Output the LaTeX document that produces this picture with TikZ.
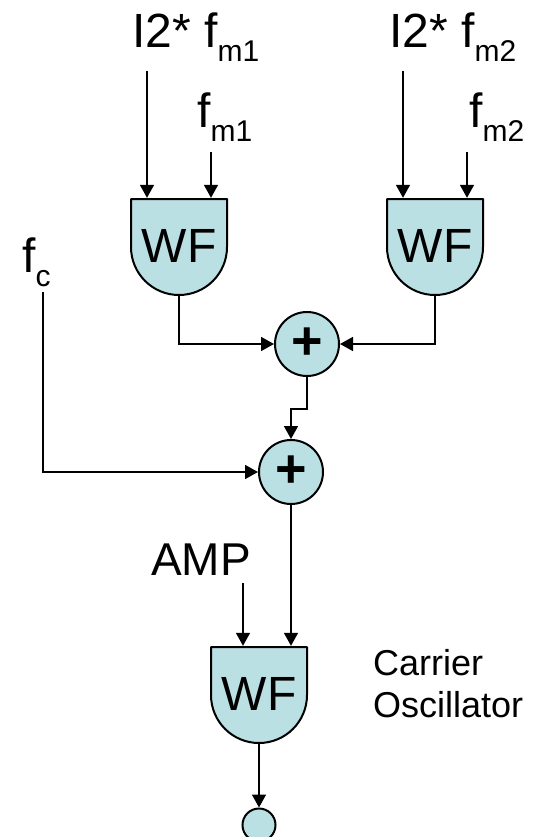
\documentclass[tikz,border=0pt]{standalone}
\usepackage{fontspec}
\setmainfont{Liberation Sans}
\usepackage{tikz}
\usetikzlibrary{arrows.meta,positioning}
\definecolor{gatefill}{RGB}{187,224,227}
\newcommand{\bigfont}{\fontsize{48}{54}\selectfont}
\newcommand{\lowsub}[1]{\raisebox{-14pt}{\fontsize{30}{34}\selectfont #1}}
\tikzset{
  gateshape/.style={draw=black,fill=gatefill,line width=2pt,line join=round},
  gatebox/.style={minimum width=96pt,minimum height=96pt,inner sep=0pt,font=\bigfont},
  sumnode/.style={circle,draw=black,fill=gatefill,line width=2pt,
    minimum size=64pt,inner sep=0pt,font=\fontsize{54}{58}\selectfont\bfseries},
  outnode/.style={circle,draw=black,fill=gatefill,line width=2pt,
    minimum size=33pt,inner sep=0pt},
  signal/.style={-{Triangle[length=13pt,width=14pt]},line width=1.6pt},
  inputlabel/.style={inner sep=0pt,anchor=base west,font=\bigfont},
  notelabel/.style={inner sep=0pt,anchor=base west,align=left,
    font=\fontsize{36}{42}\selectfont}
}

\begin{document}
\begin{tikzpicture}[x=1pt,y=1pt]
  \useasboundingbox (0,0) rectangle (536,-837);
  % waveform gates
  \draw[gateshape] (131,-199) -- (227,-199) -- (227,-247)
    arc[start angle=0,end angle=-180,radius=48] -- cycle;
  \node[gatebox] (wf1) at (179,-246) {WF};
  \draw[gateshape] (387,-199) -- (483,-199) -- (483,-247)
    arc[start angle=0,end angle=-180,radius=48] -- cycle;
  \node[gatebox] (wf2) at (435,-246) {WF};
  \draw[gateshape] (211,-647) -- (307,-647) -- (307,-695)
    arc[start angle=0,end angle=-180,radius=48] -- cycle;
  \node[gatebox] (wf3) at (259,-694) {WF};
  % adders and output
  \node[sumnode] (sum1) at (307,-344) {\raisebox{-4pt}{+}};
  \node[sumnode] (sum2) at (291,-472) {\raisebox{-4pt}{+}};
  \node[outnode] (out) at (259,-825) {};
  % labels
  \node[inputlabel] (lblA) at (132,-48) {I2* f\lowsub{m1}};
  \node[inputlabel] (lblB) at (197,-128) {f\lowsub{m1}};
  \node[inputlabel] (lblC) at (389,-48) {I2* f\lowsub{m2}};
  \node[inputlabel] (lblD) at (469,-128) {f\lowsub{m2}};
  \node[inputlabel] (lblfc) at (22,-272) {f\lowsub{c}};
  \node[inputlabel,font=\fontsize{46}{52}\selectfont] (lblamp) at (151,-575) {AMP};
  \node[notelabel] (carrier) at (373,-717) {Carrier\\Oscillator};
  % input ends
  \coordinate (inA) at (147,-71);
  \coordinate (inB) at (211,-152);
  \coordinate (inC) at (403,-71);
  \coordinate (inD) at (467,-152);
  \coordinate (inFc) at (43,-292);
  \coordinate (inAmp) at (243,-583);
  % connectors
  \draw[signal] (inA) -- (inA |- wf1.north);
  \draw[signal] (inB) -- (inB |- wf1.north);
  \draw[signal] (inC) -- (inC |- wf2.north);
  \draw[signal] (inD) -- (inD |- wf2.north);
  \draw[signal] (wf1.south) |- (sum1.west);
  \draw[signal] (wf2.south) |- (sum1.east);
  \draw[signal] (sum1.south) -- ++(0,-32) -| (sum2.north);
  \draw[signal] (inFc) |- (sum2.west);
  \draw[signal] (sum2.south) -- (sum2.south |- wf3.north);
  \draw[signal] (inAmp) -- (inAmp |- wf3.north);
  \draw[signal] (wf3.south) -- (out.north);
\end{tikzpicture}
\end{document}
